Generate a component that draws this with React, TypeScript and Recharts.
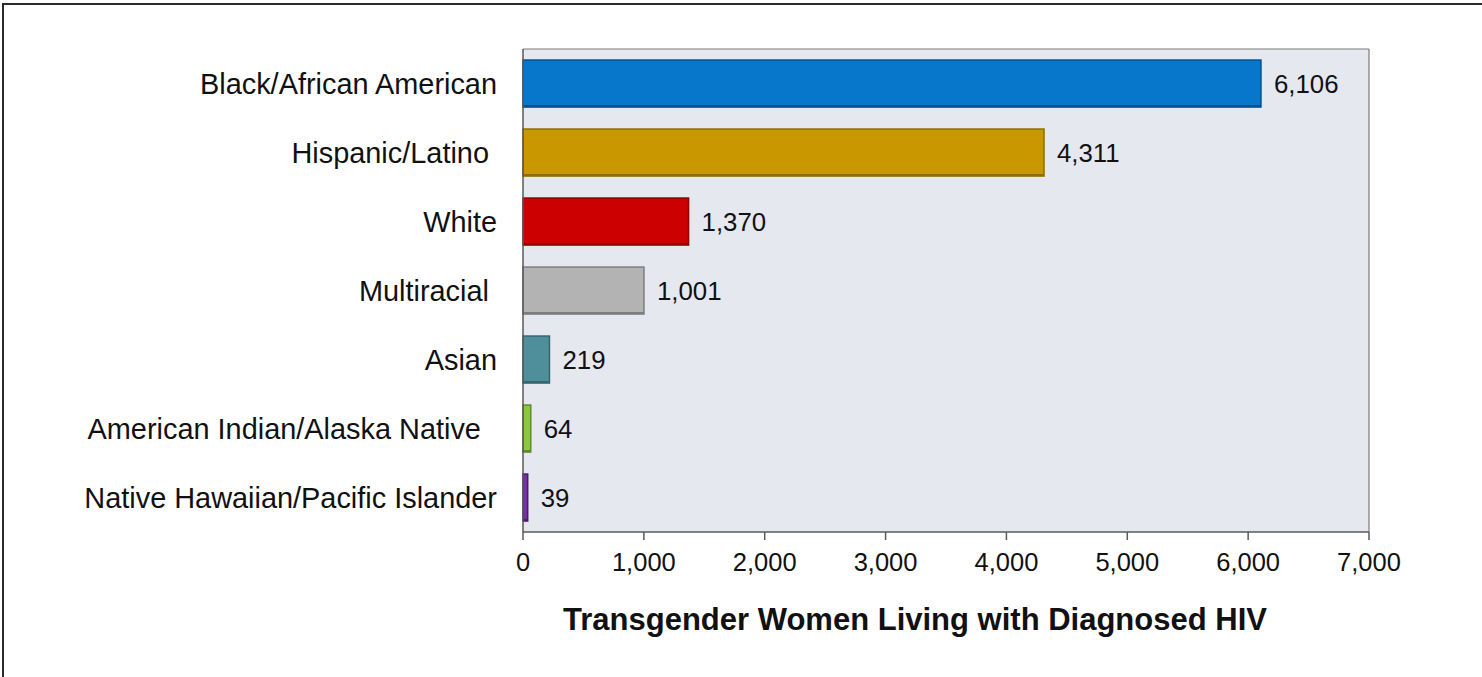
import React from 'react';
import { BarChart, Bar, XAxis, YAxis, CartesianGrid, Cell, LabelList } from 'recharts';

const categories = [
  'Black/African American',
  'Hispanic/Latino ',
  'White',
  'Multiracial ',
  'Asian',
  'American Indian/Alaska Native  ',
  'Native Hawaiian/Pacific Islander',
];
const values = [6106, 4311, 1370, 1001, 219, 64, 39];
const barColors = ['#0777CC', '#C99800', '#CC0000', '#B3B3B3', '#4F8F9C', '#8DC63F', '#7B2F9C'];
const barEdges = ['#04508C', '#8E6C00', '#8E0000', '#7E7E7E', '#35666F', '#5E8A28', '#4E1C65'];
const xTicks = [0, 1000, 2000, 3000, 4000, 5000, 6000, 7000];
const boundaryTicks = [0, 1, 2, 3, 4, 5, 6, 7];
const axisTitle = 'Transgender Women Living with Diagnosed HIV';

const data = categories.map((name, i) => ({ name, value: values[i] }));

const FONT = '"Liberation Sans", Arial, Helvetica, sans-serif';

const fmt = (v: any) => Number(v).toLocaleString('en-US');

const CategoryTick = (props: any) => {
  const { x, y, payload } = props;
  const label = String(payload.value).replace(/ +$/, (m: string) => '\u00A0'.repeat(m.length));
  return (
    <text x={x} y={y} dy="0.355em" textAnchor="end" fontSize={28.9} fill="#111" fontFamily={FONT}>
      {label}
    </text>
  );
};

const NoTick = () => <g />;

const BarShape = (props: any) => {
  const { x, y, width, height, fill, stroke } = props;
  if (!width || width <= 0) return <g />;
  return (
    <g>
      <rect x={x} y={y} width={width} height={height} fill={fill} stroke={stroke} strokeWidth={1.5} />
      <line x1={x} x2={x + width} y1={y + height - 1} y2={y + height - 1} stroke={stroke} strokeWidth={2} />
    </g>
  );
};

export default function App() {
  return (
    <div
      style={{
        position: 'absolute',
        left: 0,
        top: 0,
        width: 1482,
        height: 677,
        overflow: 'hidden',
        background: '#fff',
        fontFamily: FONT,
      }}
    >
      <div
        style={{
          position: 'absolute',
          left: 2,
          top: 3,
          width: 1500,
          height: 700,
          border: '2px solid #2a2a2a',
          boxSizing: 'border-box',
        }}
      />
      <div style={{ position: 'absolute', left: 0, top: 0 }}>
        <BarChart
          width={1482}
          height={677}
          data={data}
          layout="vertical"
          margin={{ top: 49, right: 113, bottom: 45, left: 23 }}
          barCategoryGap="16%"
        >
          <CartesianGrid
            fill="#E5E8EF"
            stroke="#7a7a7a"
            strokeWidth={1.2}
            horizontalCoordinatesGenerator={({ offset }: any) => [offset.top]}
            verticalCoordinatesGenerator={({ offset }: any) => [offset.left + offset.width]}
          />
          <XAxis
            type="number"
            domain={[0, 7000]}
            ticks={xTicks}
            interval={0}
            tickFormatter={fmt}
            tickSize={8}
            tickMargin={13}
            height={100}
            axisLine={{ stroke: '#5a5a5a', strokeWidth: 1.5 }}
            tickLine={{ stroke: '#5a5a5a', strokeWidth: 1.5 }}
            tick={{ fontSize: 25.5, fill: '#111' }}
            label={{
              value: axisTitle,
              position: 'insideBottom',
              offset: 2,
              dx: -31,
              fontSize: 31,
              fontWeight: 'bold',
              fill: '#111',
            }}
          />
          <YAxis
            yAxisId="bounds"
            type="number"
            domain={[0, 7]}
            ticks={boundaryTicks}
            interval={0}
            allowDataOverflow
            width={0}
            tickSize={8}
            tick={NoTick}
            axisLine={false}
            tickLine={{ stroke: '#5a5a5a', strokeWidth: 1.5 }}
          />
          <YAxis
            yAxisId="cat"
            type="category"
            dataKey="name"
            width={500}
            interval={0}
            tickSize={8}
            tickMargin={18}
            tickLine={false}
            axisLine={{ stroke: '#5a5a5a', strokeWidth: 1.5 }}
            tick={CategoryTick}
          />
          <Bar dataKey="value" yAxisId="cat" isAnimationActive={false} shape={BarShape}>
            {data.map((d, i) => (
              <Cell key={d.name} fill={barColors[i]} stroke={barEdges[i]} />
            ))}
            <LabelList
              dataKey="value"
              position="right"
              offset={13}
              formatter={fmt}
              fontSize={25.8}
              fill="#111"
            />
          </Bar>
        </BarChart>
      </div>
    </div>
  );
}
